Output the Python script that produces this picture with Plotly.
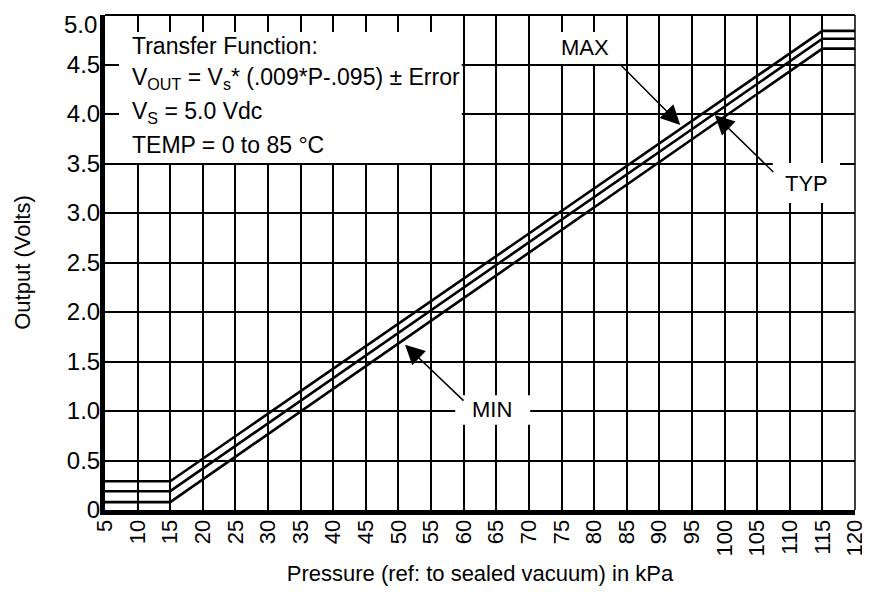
import plotly.graph_objects as go

# ---- data ----
pressure_kpa = [5, 15, 115, 120]
v_max = [0.29, 0.29, 4.84, 4.84]
v_typ = [0.19, 0.19, 4.76, 4.76]
v_min = [0.08, 0.08, 4.66, 4.66]

x_ticks = list(range(5, 125, 5))
y_ticks = [0, 0.5, 1.0, 1.5, 2.0, 2.5, 3.0, 3.5, 4.0, 4.5, 5.0]
y_tick_text = ["0", "0.5", "1.0", "1.5", "2.0", "2.5", "3.0", "3.5", "4.0", "4.5", "5.0"]

# curve labels: (text, text position, arrow tail, arrow tip)
labels = [
    ("MAX", (78.6, 4.67), (83.7, 4.52), (93.2, 3.89)),
    ("TYP", (112.5, 3.30), (107.7, 3.40), (98.5, 3.99)),
    ("MIN", (64.3, 1.02), (60.2, 1.09), (51.0, 1.67)),
]
# white boxes behind labels (x0, x1, y0, y1)
label_boxes = [
    (73.7, 84.0, 4.505, 5.0),
    (107.4, 117.7, 3.10, 3.505),
    (58.7, 70.2, 0.86, 1.16),
]
info_box = (5, 59.7, 3.505, 5.0)
info_lines = [
    "Transfer Function:",
    "V<sub>OUT</sub> = V<sub>s</sub>* (.009*P-.095) ± Error",
    "V<sub>S</sub> = 5.0 Vdc",
    "TEMP = 0 to 85 °C",
]
info_line_y = [4.69, 4.36, 4.02, 3.69]
info_x = 8.9

SANS = "Liberation Sans, Arial, sans-serif"

fig = go.Figure()
for ys in (v_max, v_typ, v_min):
    fig.add_trace(go.Scatter(x=pressure_kpa, y=ys, mode="lines",
                             line=dict(color="black", width=2.6),
                             showlegend=False, hoverinfo="skip"))

shapes = []
for (x0, x1, y0, y1) in label_boxes + [info_box]:
    shapes.append(dict(type="rect", xref="x", yref="y", x0=x0, x1=x1, y0=y0, y1=y1,
                       fillcolor="white", line=dict(width=0), layer="between"))
# frame top / right
shapes.append(dict(type="line", xref="paper", yref="paper", x0=0, x1=1, y0=1, y1=1,
                   line=dict(color="black", width=2), layer="above"))
shapes.append(dict(type="line", xref="paper", yref="paper", x0=1, x1=1, y0=0, y1=1,
                   line=dict(color="black", width=1.5), layer="above"))

annotations = []
for text, (tx, ty), (ax, ay), (hx, hy) in labels:
    annotations.append(dict(x=tx, y=ty, xref="x", yref="y", text=text, showarrow=False,
                            font=dict(family=SANS, size=22, color="black")))
    annotations.append(dict(x=hx, y=hy, xref="x", yref="y", ax=ax, ay=ay,
                            axref="x", ayref="y", text="", showarrow=True,
                            arrowhead=2, arrowsize=2.6, arrowwidth=1.5,
                            arrowcolor="black"))
for line, ly in zip(info_lines, info_line_y):
    annotations.append(dict(x=info_x, y=ly, xref="x", yref="y", text=line,
                            showarrow=False, xanchor="left", yanchor="middle",
                            align="left",
                            font=dict(family=SANS, size=23, color="black")))

# top tick label drawn as annotation so it stays inside the page (sits just below the top edge)
tick_text_shown = y_tick_text[:-1] + [""]
annotations.append(dict(x=0, y=y_ticks[-1], xref="paper", yref="y", text=y_tick_text[-1],
                        showarrow=False, xanchor="right", yanchor="top",
                        xshift=-6, yshift=6,
                        font=dict(family=SANS, size=24, color="black")))

fig.update_layout(
    width=862, height=584,
    margin=dict(l=97, r=15, t=7, b=82, autoexpand=False),
    paper_bgcolor="white", plot_bgcolor="white",
    shapes=shapes, annotations=annotations,
    xaxis=dict(range=[5, 120], tickvals=x_ticks, ticktext=[str(v) for v in x_ticks],
               tickangle=-90, showgrid=True, gridcolor="black", gridwidth=1.5,
               showline=True, linecolor="black", linewidth=5, ticks="",
               zeroline=False, automargin=False, ticklabelstandoff=-4,
               ticklabeloverflow="allow",
               tickfont=dict(family=SANS, size=22, color="black"),
               title=dict(text="Pressure (ref: to sealed vacuum) in kPa",
                          font=dict(family=SANS, size=22, color="black"), standoff=12)),
    xaxis2=dict(range=[5, 120], overlaying="x", side="top", tickvals=x_ticks,
                ticks="inside", ticklen=17, tickwidth=1.5, tickcolor="black",
                showticklabels=False, showgrid=False, zeroline=False, showline=False,
                automargin=False),
    yaxis=dict(range=[0, 5], tickvals=y_ticks, ticktext=tick_text_shown,
               showgrid=True, gridcolor="black", gridwidth=1.5,
               showline=True, linecolor="black", linewidth=5,
               ticks="inside", ticklen=14, tickwidth=1.5, tickcolor="black",
               zeroline=False, automargin=False, ticklabelstandoff=-5,
               ticklabeloverflow="allow",
               tickfont=dict(family=SANS, size=24, color="black"),
               title=dict(text="Output (Volts)",
                          font=dict(family=SANS, size=22, color="black"), standoff=32)),
)
# invisible marker to activate the top axis
fig.add_trace(go.Scatter(x=[5], y=[0], xaxis="x2", mode="markers",
                         marker=dict(opacity=0), showlegend=False, hoverinfo="skip"))
fig.write_html("out.html")
